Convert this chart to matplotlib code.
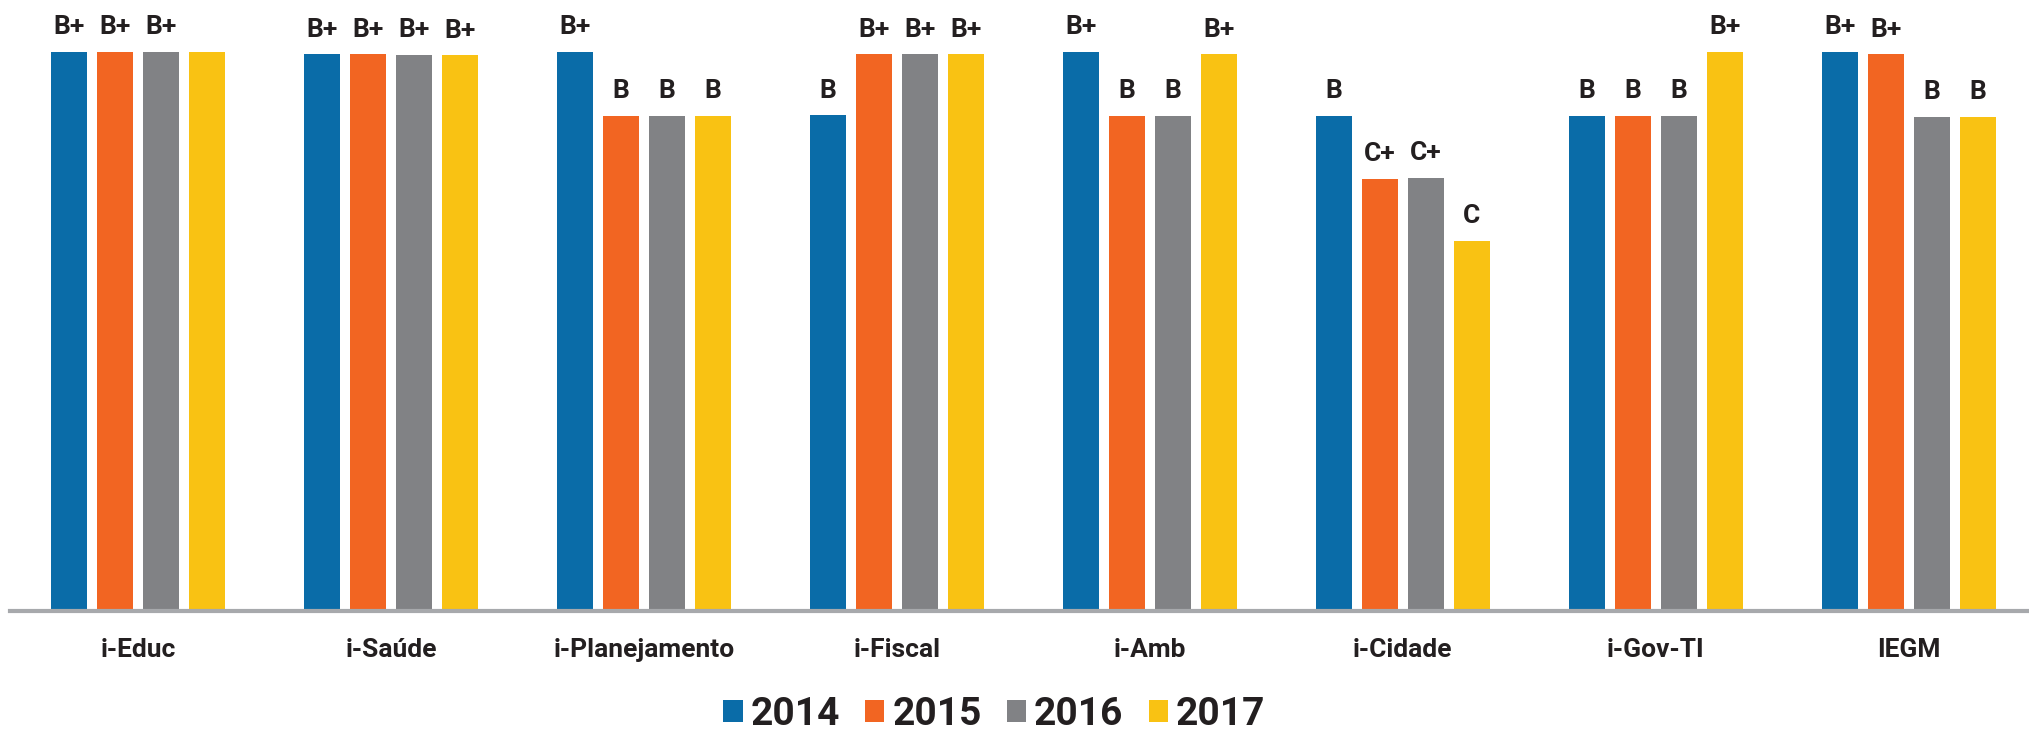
import numpy as np
import matplotlib.pyplot as plt

categories = ['i-Educ', 'i-Saúde', 'i-Planejamento', 'i-Fiscal', 'i-Amb',
              'i-Cidade', 'i-Gov-TI', 'IEGM']
years = ['2014', '2015', '2016', '2017']

# bar heights (B+ ~ 1.0, B ~ 0.886, C+ ~ 0.773, C ~ 0.662)
v2014 = [1.000, 0.996, 1.000, 0.887, 1.000, 0.886, 0.886, 1.000]
v2015 = [1.000, 0.996, 0.886, 0.996, 0.886, 0.773, 0.886, 0.996]
v2016 = [1.000, 0.995, 0.886, 0.996, 0.886, 0.775, 0.886, 0.884]
v2017 = [1.000, 0.994, 0.886, 0.996, 0.996, 0.662, 1.000, 0.884]

l2014 = ['B+', 'B+', 'B+', 'B', 'B+', 'B', 'B', 'B+']
l2015 = ['B+', 'B+', 'B', 'B+', 'B', 'C+', 'B', 'B+']
l2016 = ['B+', 'B+', 'B', 'B+', 'B', 'C+', 'B', 'B']
l2017 = ['', 'B+', 'B', 'B+', 'B+', 'C', 'B+', 'B']

colors = ['#0a6ca8', '#f26522', '#818285', '#f9c213']
txt = '#231f20'

series = [v2014, v2015, v2016, v2017]
labels = [l2014, l2015, l2016, l2017]

plt.rcParams['font.family'] = ['Roboto', 'DejaVu Sans']

fig = plt.figure(figsize=(20.29, 7.31), dpi=100)
ax = fig.add_axes([0.005, 0.164, 0.995, 0.836])

x = np.arange(len(categories))
pitch = 0.182
width = 0.143
for i, (vals, labs) in enumerate(zip(series, labels)):
    pos = x + (i - 1.5) * pitch
    bars = ax.bar(pos, vals, width, color=colors[i], label=years[i], zorder=2)
    for b, lab in zip(bars, labs):
        if lab:
            ax.annotate(lab, (b.get_x() + b.get_width() / 2, b.get_height()),
                        xytext=(0, 9), textcoords='offset points',
                        ha='center', va='bottom', fontsize=19,
                        fontweight='bold', color=txt)

ax.set_xlim(-0.507, 7.476)
ax.set_ylim(0, 1.093)
ax.set_yticks([])
ax.set_xticks(x)
ax.set_xticklabels(categories, fontsize=19, fontweight='bold', color=txt)
ax.tick_params(axis='x', length=0, pad=19)
for s in ['top', 'right', 'left']:
    ax.spines[s].set_visible(False)
ax.spines['bottom'].set_color('#a7a9ac')
ax.spines['bottom'].set_linewidth(3)

leg = fig.legend(loc='lower center', bbox_to_anchor=(0.49, -0.05), ncol=4,
                 frameon=False, fontsize=28, handlelength=0.5, handleheight=0.5,
                 handletextpad=0.2, columnspacing=0.65)
for t in leg.get_texts():
    t.set_fontweight('bold')
    t.set_color(txt)

fig.savefig('out.png', dpi=100)
